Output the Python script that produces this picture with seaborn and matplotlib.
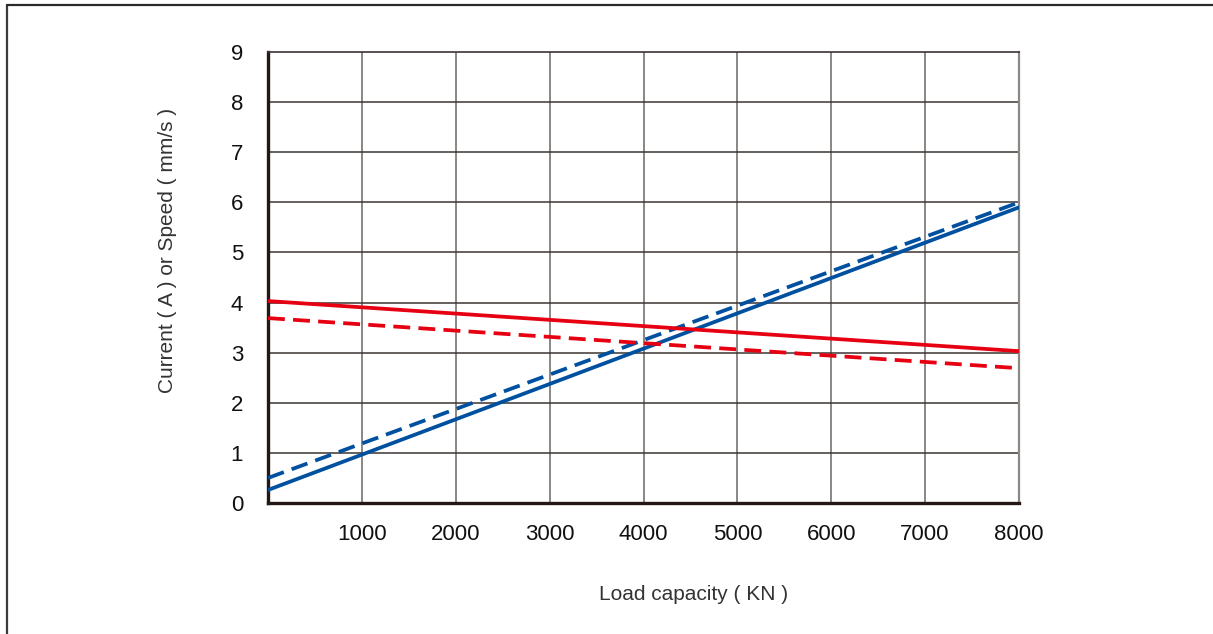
import numpy as np
import pandas as pd
import matplotlib.pyplot as plt
from matplotlib.lines import Line2D
import seaborn as sns

# load in KN (straight lines, end points)
load = [0, 8000]
blue_solid = [0.26, 5.90]
blue_dashed = [0.50, 6.00]
red_solid = [4.03, 3.03]
red_dashed = [3.69, 2.69]

x_ticks = [1000, 2000, 3000, 4000, 5000, 6000, 7000, 8000]
y_ticks = [0, 1, 2, 3, 4, 5, 6, 7, 8, 9]

BLUE = "#0050a0"
RED = "#e60012"

sns.set_theme(style="white")
plt.rcParams["font.family"] = ["Liberation Sans", "DejaVu Sans"]

df = pd.concat(
    [
        pd.DataFrame({"load": load, "value": blue_solid, "series": "blue_solid"}),
        pd.DataFrame({"load": load, "value": blue_dashed, "series": "blue_dashed"}),
        pd.DataFrame({"load": load, "value": red_solid, "series": "red_solid"}),
        pd.DataFrame({"load": load, "value": red_dashed, "series": "red_dashed"}),
    ],
    ignore_index=True,
)

fig = plt.figure(figsize=(12.13, 6.34), dpi=100)
ax = fig.add_axes([268 / 1213, 1 - 503 / 634, 751 / 1213, 451 / 634])

sns.lineplot(
    data=df,
    x="load",
    y="value",
    hue="series",
    style="series",
    palette={"blue_solid": BLUE, "blue_dashed": BLUE, "red_solid": RED, "red_dashed": RED},
    dashes={"blue_solid": "", "blue_dashed": (4.5, 2.2), "red_solid": "", "red_dashed": (4.5, 2.2)},
    linewidth=2.7,
    legend=False,
    ax=ax,
    zorder=3,
)

ax.set_xlim(0, 8000)
ax.set_ylim(0, 9)
ax.set_xticks(x_ticks)
ax.set_yticks(y_ticks)
ax.tick_params(axis="both", length=0, labelsize=16, colors="#111111")
ax.tick_params(axis="x", pad=15)
ax.tick_params(axis="y", pad=18)

# grid
for xv in x_ticks[:-1]:
    ax.axvline(xv, color="#6e6662", linewidth=1.1, zorder=1)
for yv in y_ticks[1:-1]:
    ax.axhline(yv, color="#3c3433", linewidth=1.1, zorder=1)

ax.spines["left"].set_linewidth(2.4)
ax.spines["left"].set_color("#231815")
ax.spines["bottom"].set_linewidth(2.4)
ax.spines["bottom"].set_color("#231815")
ax.spines["top"].set_linewidth(1.2)
ax.spines["top"].set_color("#3c3433")
ax.spines["right"].set_linewidth(1.6)
ax.spines["right"].set_color("#8c8884")

ax.set_xlabel("Load capacity ( KN )", fontsize=15, color="#333333")
ax.set_ylabel("Current ( A ) or Speed ( mm/s )", fontsize=15, color="#333333")
ax.xaxis.set_label_coords(0.567, -0.182)
ax.yaxis.set_label_coords(-0.121, 0.559)

# outer frame (top and left edges visible)
fig.add_artist(Line2D([6.5 / 1213, 6.5 / 1213], [0, 1 - 4.5 / 634],
                      transform=fig.transFigure, color="#3a3a3a", linewidth=1.6))
fig.add_artist(Line2D([6.5 / 1213, 1], [1 - 4.5 / 634, 1 - 4.5 / 634],
                      transform=fig.transFigure, color="#2a2a2a", linewidth=1.6))

fig.savefig("out.png", dpi=100)
